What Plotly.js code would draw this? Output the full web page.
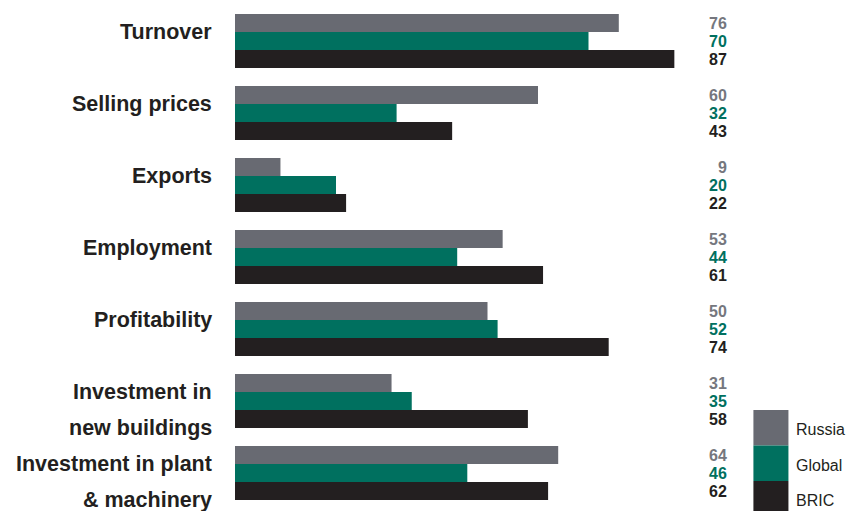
<!DOCTYPE html>
<html>
<head>
<meta charset="utf-8">
<script src="https://cdn.plot.ly/plotly-3.0.1.min.js"></script>
<style>html,body{margin:0;padding:0;background:#fff;}#chart{width:847px;height:511px;}</style>
</head>
<body>
<div id="chart"></div>
<script>
const categories = ["Turnover", "Selling prices", "Exports", "Employment", "Profitability", "Investment in new buildings", "Investment in plant & machinery"];
const categoryLines = [["Turnover"], ["Selling prices"], ["Exports"], ["Employment"], ["Profitability"], ["Investment in", "new buildings"], ["Investment in plant", "& machinery"]];
const seriesNames = ["Russia", "Global", "BRIC"];
const russia = [76, 60, 9, 53, 50, 31, 64];
const globalVals = [70, 32, 20, 44, 52, 35, 46];
const bric = [87, 43, 22, 61, 74, 58, 62];

const seriesValues = [russia, globalVals, bric];
const barColors = ["#686a72", "#00705f", "#231f20"];
const labelColors = ["#75777e", "#007060", "#231f20"];

const W = 847, H = 511;
const M = {l: 235, r: 107.4, t: 5, b: 2};
const pw = W - M.l - M.r, ph = H - M.t - M.b;
const px2x = p => (p - M.l) / pw;
const py2y = p => (H - M.b - p) / ph;

const traces = seriesValues.map((vals, i) => ({
  type: "bar", orientation: "h", name: seriesNames[i],
  x: vals, y: categories,
  marker: {color: barColors[i], line: {width: 0}},
  hoverinfo: "x+name", showlegend: false
}));

const annotations = [];
const FONT = "'Liberation Sans', Arial, sans-serif";
categoryLines.forEach((lines, c) => {
  lines.forEach((ln, k) => {
    annotations.push({
      text: ln, xref: "paper", yref: "y", x: 0, y: categories[c],
      xanchor: "right", yanchor: "middle", xshift: -21, yshift: 9 - 36 * k,
      showarrow: false, font: {family: FONT, size: 21.5, color: "#231f20", weight: "bold"}
    });
  });
});
seriesValues.forEach((vals, i) => {
  vals.forEach((v, c) => {
    annotations.push({
      text: String(v), xref: "paper", yref: "y", x: px2x(729), y: categories[c],
      xanchor: "right", yanchor: "middle", yshift: 18 - 18 * i,
      showarrow: false, font: {family: FONT, size: 16, color: labelColors[i], weight: "bold"}
    });
  });
});

const shapes = [];
const legTop = 410, legSize = 35.5;
seriesNames.forEach((name, i) => {
  const y0 = legTop + i * legSize, y1 = y0 + legSize;
  shapes.push({type: "rect", xref: "paper", yref: "paper",
    x0: px2x(753), x1: px2x(788), y0: py2y(y1), y1: py2y(y0),
    fillcolor: barColors[i], line: {width: 0}});
  annotations.push({
    text: name, xref: "paper", yref: "paper", x: px2x(794), y: py2y((y0 + y1) / 2 + 2),
    xanchor: "left", yanchor: "middle", showarrow: false,
    font: {family: FONT, size: 16, color: "#231f20"}
  });
});

const layout = {
  width: W, height: H,
  margin: M,
  paper_bgcolor: "#ffffff", plot_bgcolor: "#ffffff",
  barmode: "group", bargap: 0.25, bargroupgap: 0,
  xaxis: {range: [0, 100], showgrid: false, zeroline: false, showticklabels: false, ticks: "", showline: false, fixedrange: true},
  yaxis: {autorange: "reversed", showgrid: false, zeroline: false, showticklabels: false, ticks: "", showline: false, fixedrange: true},
  annotations: annotations, shapes: shapes,
  showlegend: false
};

Plotly.newPlot("chart", traces, layout, {displayModeBar: false, staticPlot: true});
</script>
</body>
</html>
